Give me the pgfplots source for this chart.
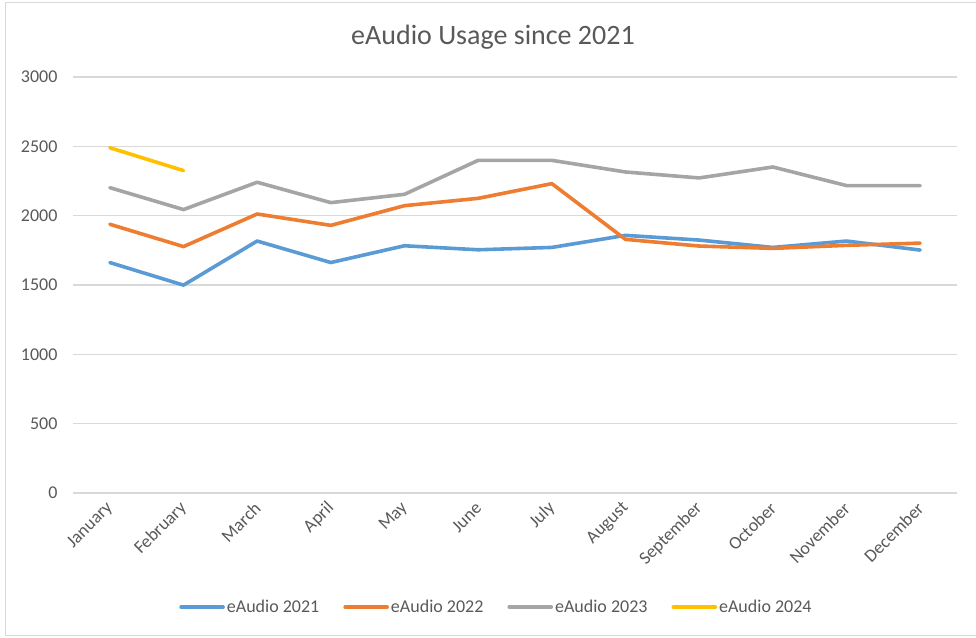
\documentclass[border=0pt]{standalone}
\usepackage{fontspec}
\setmainfont{Carlito}
\usepackage{pgfplots}
\pgfplotsset{compat=1.18}
\definecolor{cblue}{HTML}{5B9BD5}
\definecolor{corange}{HTML}{ED7D31}
\definecolor{cgray}{HTML}{A5A5A5}
\definecolor{cyellow}{HTML}{FFC000}
\definecolor{ctext}{HTML}{595959}
\definecolor{cgrid}{HTML}{D9D9D9}
\begin{document}
\begin{tikzpicture}
\path[use as bounding box] (0pt,0pt) rectangle (976pt,637pt);
\draw[cgrid, line width=1pt] (976pt,634pt) -- (5pt,634pt) -- (5pt,2pt) -- (976pt,2pt);
\node[text=ctext, font=\fontsize{28}{32}\selectfont] at (493pt,600pt) {eAudio Usage since 2021};
\begin{axis}[
  at={(73pt,144pt)}, anchor=south west,
  scale only axis, width=884pt, height=416pt,
  xmin=-0.5, xmax=11.5, ymin=0, ymax=3000,
  ytick={0,500,...,3000},
  xtick={0,...,11},
  xticklabels={January,February,March,April,May,June,July,August,September,October,November,December},
  axis line style={draw=none},
  tick style={draw=none},
  ymajorgrids, grid style={cgrid, line width=1.2pt},
  /pgf/number format/assume math mode=true,
  /pgf/number format/1000 sep={},
  ticklabel style={text=ctext, font=\fontsize{18}{21}\selectfont},
  yticklabel style={anchor=east, xshift=-12pt},
  xticklabel style={rotate=45, anchor=east, yshift=-9pt, xshift=-5pt},
  legend style={at={(0.479,-0.274)}, anchor=center, draw=none, fill=none,
    font=\fontsize{18}{21}\selectfont, text=ctext,
    /tikz/every even column/.append style={column sep=22pt}},
  legend columns=4,
  legend image code/.code={\draw[#1] (0pt,0pt) -- (42pt,0pt);},
  every axis plot/.append style={line width=3.6pt, line join=round, line cap=round},
]
\addplot[cblue] coordinates {(0,1662) (1,1499) (2,1817) (3,1662) (4,1783) (5,1754) (6,1771) (7,1858) (8,1824) (9,1771) (10,1817) (11,1752)};
\addlegendentry{eAudio 2021}
\addplot[corange] coordinates {(0,1938) (1,1777) (2,2012) (3,1930) (4,2072) (5,2125) (6,2231) (7,1829) (8,1781) (9,1764) (10,1786) (11,1802)};
\addlegendentry{eAudio 2022}
\addplot[cgray] coordinates {(0,2202) (1,2044) (2,2241) (3,2094) (4,2154) (5,2399) (6,2399) (7,2315) (8,2272) (9,2351) (10,2217) (11,2217)};
\addlegendentry{eAudio 2023}
\addplot[cyellow] coordinates {(0,2490) (1,2325)};
\addlegendentry{eAudio 2024}
\end{axis}
\end{tikzpicture}
\end{document}
